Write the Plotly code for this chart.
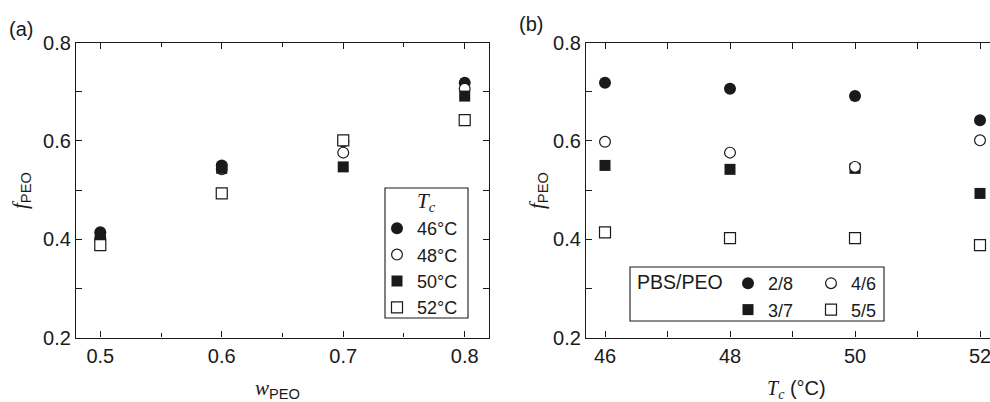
import plotly.graph_objects as go

# ---------------- data ----------------
w_peo = [0.5, 0.6, 0.7, 0.8]
tc_names = ["46°C", "48°C", "50°C", "52°C"]
f_a_46 = [0.414, 0.550, 0.599, 0.718]
f_a_48 = [0.402, 0.542, 0.576, 0.706]
f_a_50 = [0.402, 0.544, 0.547, 0.691]
f_a_52 = [0.388, 0.493, 0.601, 0.642]

tc_vals = [46, 48, 50, 52]
blend_names = ["2/8", "3/7", "4/6", "5/5"]
f_b_28 = [0.718, 0.706, 0.691, 0.642]
f_b_37 = [0.550, 0.542, 0.544, 0.493]
f_b_46 = [0.598, 0.576, 0.547, 0.601]
f_b_55 = [0.414, 0.402, 0.402, 0.388]

# ---------------- styles ----------------
W, H = 990, 402
INK = "#1a1a1a"
SANS = "Liberation Sans, Arial, Helvetica, sans-serif"
SERIF = "Liberation Serif, Times New Roman, serif"
FS = 20
LFS = 18

def px_x(p):
    return p / W

def px_y(p):
    return 1 - p / H

styles = {
    "fc": dict(symbol="circle", size=12, color=INK, line=dict(width=0)),
    "oc": dict(symbol="circle", size=10.8, color="white", line=dict(width=1.2, color=INK)),
    "fs": dict(symbol="square", size=11, color=INK, line=dict(width=0)),
    "os": dict(symbol="square", size=11, color="white", line=dict(width=1.2, color=INK)),
}

fig = go.Figure()

series_a = [f_a_46, f_a_48, f_a_50, f_a_52]
sty_a = ["fc", "oc", "fs", "os"]
for name, ys, s in zip(tc_names, series_a, sty_a):
    fig.add_trace(go.Scatter(x=w_peo, y=ys, mode="markers", name=name,
                             marker=styles[s], xaxis="x", yaxis="y",
                             legend="legend", cliponaxis=False))

series_b = [f_b_28, f_b_37, f_b_46, f_b_55]
sty_b = ["fc", "fs", "oc", "os"]
leg_b = ["legend2", "legend2", "legend3", "legend3"]
for name, ys, s, lg in zip(blend_names, series_b, sty_b, leg_b):
    fig.add_trace(go.Scatter(x=tc_vals, y=ys, mode="markers", name=name,
                             marker=styles[s], xaxis="x2", yaxis="y2",
                             legend=lg, cliponaxis=False))

axis_common = dict(
    showline=True, linecolor=INK, linewidth=1.2,
    ticks="inside", ticklen=6, tickwidth=1.1, tickcolor=INK,
    showgrid=False, zeroline=False, automargin=False,
    ticklabeloverflow="allow",
    tickfont=dict(family=SANS, size=FS, color=INK),
)

y_dom = [px_y(337.5), px_y(42.5)]

fig.update_layout(
    width=W, height=H,
    margin=dict(l=0, r=0, t=0, b=0),
    paper_bgcolor="white", plot_bgcolor="white",
    template="none",
    font=dict(family=SANS, size=FS, color=INK),
    xaxis=dict(domain=[px_x(76), px_x(489)], range=[0.48, 0.82],
               tickvals=w_peo, tickformat=".1f", mirror="ticks",
               minor=dict(dtick=0.05, tick0=0.45, ticks="inside", ticklen=4, tickcolor=INK, tickwidth=1.1),
               anchor="y", **axis_common),
    yaxis=dict(domain=y_dom, range=[0.2, 0.8], dtick=0.2, tick0=0.2,
               tickformat=".1f", mirror="ticks",
               minor=dict(dtick=0.1, tick0=0.2, ticks="inside", ticklen=6, tickcolor=INK, tickwidth=1.1),
               anchor="x", **axis_common),
    xaxis2=dict(domain=[px_x(586), 1.0], range=[45.696, 52.16],
                tickvals=tc_vals, mirror="ticks",
                minor=dict(dtick=1, tick0=45, ticks="inside", ticklen=6, tickcolor=INK, tickwidth=1.1),
                anchor="y2", **axis_common),
    yaxis2=dict(domain=y_dom, range=[0.2, 0.8], dtick=0.2, tick0=0.2,
                tickformat=".1f", mirror=False,
                minor=dict(dtick=0.1, tick0=0.2, ticks="inside", ticklen=6, tickcolor=INK, tickwidth=1.1),
                anchor="x2", **axis_common),
    legend=dict(x=px_x(377), y=px_y(210), xanchor="left", yanchor="top",
                borderwidth=0, bgcolor="rgba(0,0,0,0)",
                font=dict(family=SANS, size=LFS, color=INK),
                tracegroupgap=0),
    legend2=dict(x=px_x(728), y=px_y(265), xanchor="left", yanchor="top",
                 borderwidth=0, bgcolor="rgba(0,0,0,0)",
                 font=dict(family=SANS, size=LFS, color=INK),
                 tracegroupgap=0),
    legend3=dict(x=px_x(811), y=px_y(265), xanchor="left", yanchor="top",
                 borderwidth=0, bgcolor="rgba(0,0,0,0)",
                 font=dict(family=SANS, size=LFS, color=INK),
                 tracegroupgap=0),
    showlegend=True,
)

# legend frames
fig.add_shape(type="rect", xref="paper", yref="paper",
              x0=px_x(385), x1=px_x(468), y0=px_y(318), y1=px_y(188),
              line=dict(color=INK, width=1.1), fillcolor="white", layer="above")
fig.add_shape(type="rect", xref="paper", yref="paper",
              x0=px_x(630), x1=px_x(884), y0=px_y(321), y1=px_y(267),
              line=dict(color=INK, width=1.1), fillcolor="white", layer="above")

def ann(text, x, y, angle=0, size=FS, xanchor="center", yanchor="middle", family=SANS):
    fig.add_annotation(text=text, x=px_x(x), y=px_y(y), xref="paper", yref="paper",
                       showarrow=False, textangle=angle, xanchor=xanchor, yanchor=yanchor,
                       font=dict(family=family, size=size, color=INK))

ann("(a)", 7, 29, size=20, xanchor="left")
ann("(b)", 517, 24, size=20, xanchor="left")
ann("PBS/PEO", 635, 282, size=19.5, xanchor="left")
ann("<i>T<sub>c</sub></i>", 426, 202, size=21, family=SERIF)

f_title = (f"<span style=\"font-family:{SERIF}\"><i>f</i></span>"
           f"<sub>PEO</sub>")
ann(f_title, 21, 191, angle=-90, size=21)
ann(f_title, 538, 191, angle=-90, size=21)

w_title = (f"<span style=\"font-family:{SERIF}\"><i>w</i></span>"
           f"<sub>PEO</sub>")
ann(w_title, 277, 389, size=21)

t_title = (f"<span style=\"font-family:{SERIF}\"><i>T<sub>c</sub></i></span>"
           f" (°C)")
ann(t_title, 796, 389, size=20)

fig.write_html("out.html")
